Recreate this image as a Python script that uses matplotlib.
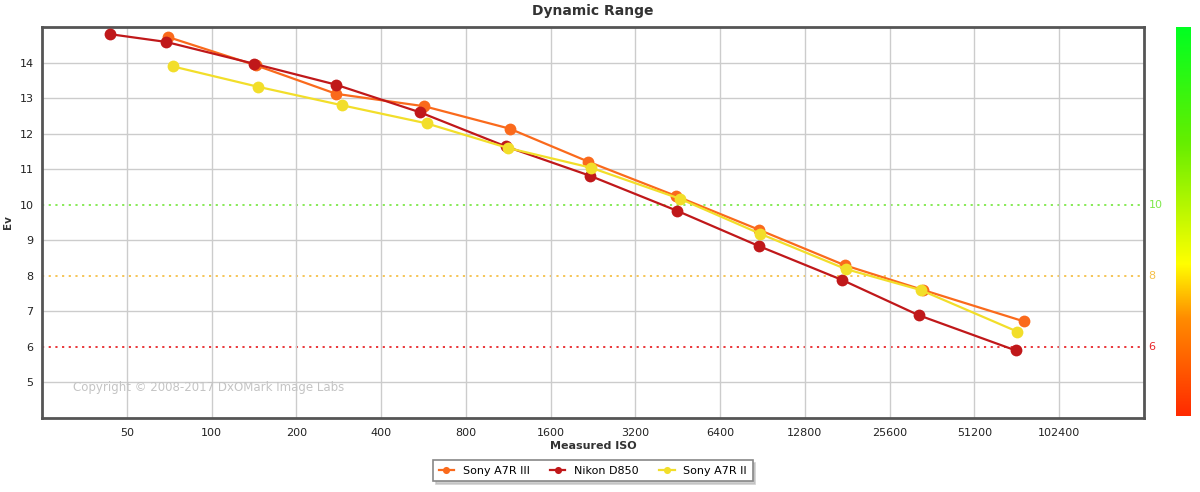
import numpy as np
import matplotlib
matplotlib.use("Agg")
import matplotlib.pyplot as plt
from matplotlib.colors import LinearSegmentedColormap

sony_a7r3_iso = [70, 144, 277, 570, 1145, 2180, 4450, 8770, 17700, 33700, 76600]
sony_a7r3_ev = [14.72, 13.92, 13.12, 12.77, 12.14, 11.21, 10.25, 9.30, 8.30, 7.60, 6.72]

nikon_d850_iso = [43.5, 69, 141, 276, 550, 1110, 2200, 4500, 8770, 17400, 32500, 71800]
nikon_d850_ev = [14.80, 14.58, 13.97, 13.38, 12.60, 11.64, 10.82, 9.83, 8.84, 7.88, 6.89, 5.90]

sony_a7r2_iso = [73, 146, 290, 580, 1125, 2230, 4600, 8900, 17900, 33000, 72700]
sony_a7r2_ev = [13.89, 13.32, 12.80, 12.29, 11.60, 11.04, 10.17, 9.18, 8.19, 7.60, 6.43]

series_names = ["Sony A7R III", "Nikon D850", "Sony A7R II"]
series_colors = ["#fa6a1c", "#c0181a", "#f2de2a"]

iso_ticks = [50, 100, 200, 400, 800, 1600, 3200, 6400, 12800, 25600, 51200, 102400]
ev_ticks = [5, 6, 7, 8, 9, 10, 11, 12, 13, 14]

# Seuils colorés (niveau, couleur)
threshold_levels = [10, 8, 6]
threshold_colors = ["#7ee84a", "#f5c04a", "#e8262a"]

plt.rcParams['font.family'] = ['DejaVu Sans']

fig = plt.figure(figsize=(12, 4.92), dpi=100)
ax = fig.add_axes([0.035, 0.1504, 0.9183, 0.7947])

ax.set_xscale('log', base=2)
ax.set_xlim(25, 204800)
ax.set_ylim(4, 15)

# Grille
ax.set_xticks(iso_ticks)
ax.set_xticklabels([str(t) for t in iso_ticks])
ax.minorticks_off()
ax.set_yticks(ev_ticks)
ax.set_yticklabels([str(t) for t in ev_ticks])
ax.grid(axis='x', color='#cccccc', linewidth=1.0)
for lvl in range(5, 15):
    if lvl not in threshold_levels:
        ax.axhline(lvl, color='#cccccc', linewidth=1.0, zorder=0)

for lvl, col in zip(threshold_levels, threshold_colors):
    ax.axhline(lvl, color=col, linewidth=1.3, linestyle=(0, (1.2, 2.5)), zorder=1)
    ax.text(1.004, lvl, str(lvl), color=col, fontsize=8,
            transform=ax.get_yaxis_transform(), va='center', ha='left')

ax.tick_params(axis='y', length=0, labelsize=8, colors='#222222', pad=6)
ax.tick_params(axis='x', length=0, labelsize=8, colors='#222222', pad=7)
for spine in ax.spines.values():
    spine.set_color('#555555')
    spine.set_linewidth(2)

# Séries
all_iso = [sony_a7r3_iso, nikon_d850_iso, sony_a7r2_iso]
all_ev = [sony_a7r3_ev, nikon_d850_ev, sony_a7r2_ev]
for iso, ev, name, col in zip(all_iso, all_ev, series_names, series_colors):
    ax.plot(iso, ev, '-o', color=col, linewidth=1.6, markersize=8.5,
            markeredgewidth=0, label=name, zorder=3)

ax.text(0.028, 0.068, "Copyright © 2008-2017 DxOMark Image Labs",
        transform=ax.transAxes, color='#c4c4c4', fontsize=8.5)

ax.set_title("Dynamic Range", fontsize=10, fontweight='bold', color='#333333', pad=9)
ax.set_ylabel("Ev", fontsize=7.5, fontweight='bold', color='#333333')
ax.yaxis.set_label_coords(-0.026, 0.5)
ax.set_xlabel("Measured ISO", fontsize=8, fontweight='bold', color='#333333', labelpad=2)

# Barre de couleur à droite
cax = fig.add_axes([0.98, 0.1545, 0.0123, 0.791])
cmap = LinearSegmentedColormap.from_list(
    "dr", [(0.0, "#ff2a00"), (0.25, "#ff8c00"), (0.39, "#ffff00"), (0.7, "#66ee00"), (1.0, "#00ff22")])
cax.imshow(np.linspace(0, 1, 256).reshape(-1, 1), aspect='auto', cmap=cmap, origin='lower')
cax.set_axis_off()

leg = fig.legend(loc='center', bbox_to_anchor=(0.494, 0.043), ncol=3, fontsize=8,
                 frameon=True, fancybox=False, shadow={'color': '#bbbbbb', 'alpha': 0.7},
                 markerscale=0.6, handlelength=1.4, columnspacing=1.8, borderpad=0.5)
leg.get_frame().set_edgecolor('#888888')
leg.get_frame().set_linewidth(1.2)

fig.savefig("out.png", dpi=100)
